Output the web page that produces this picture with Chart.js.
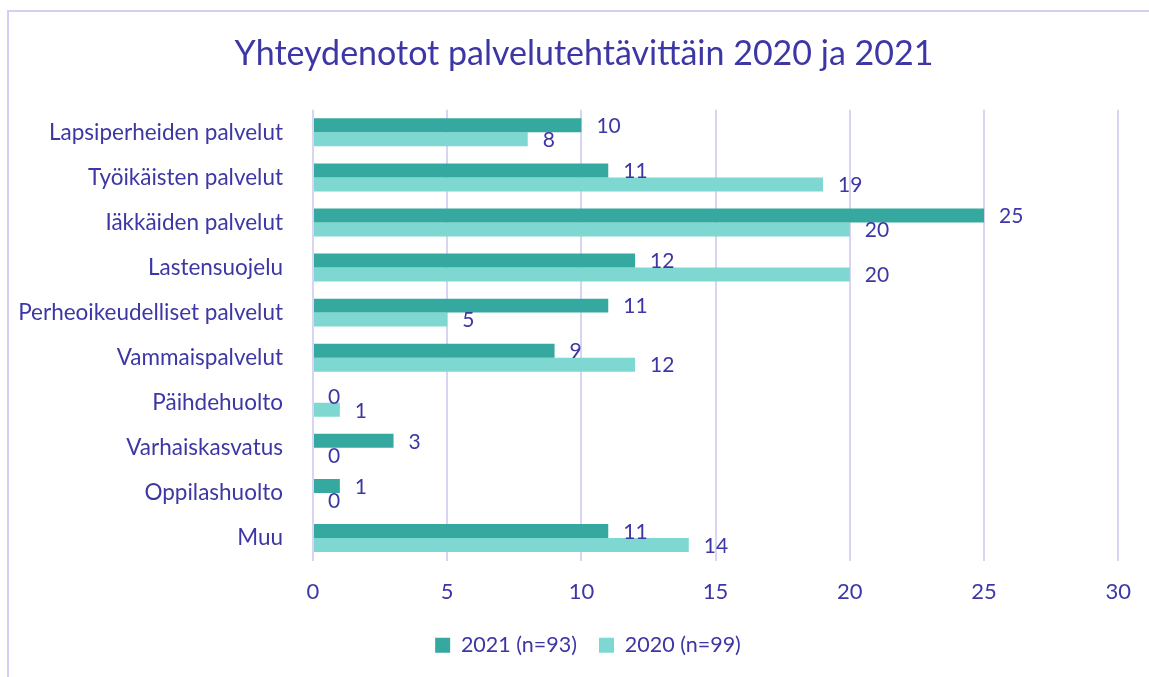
<!DOCTYPE html>
<html>
<head>
<meta charset="utf-8">
<script src="https://cdn.jsdelivr.net/npm/chart.js@4/dist/chart.umd.min.js"></script>
<style>
html,body{margin:0;padding:0;background:#fff;overflow:hidden;}
#wrap{position:absolute;left:0;top:0;width:1149px;height:677px;}
#frame{position:absolute;left:7px;top:10px;width:1200px;height:700px;border-left:2px solid #D3CFF2;border-top:2px solid #D3CFF2;box-sizing:border-box;}
canvas{position:absolute;left:0;top:0;}
</style>
</head>
<body>
<div id="wrap">
<div id="frame"></div>
<canvas id="c" width="1149" height="677"></canvas>
</div>
<script>
const categories = ["Lapsiperheiden palvelut","Työikäisten palvelut","Iäkkäiden palvelut","Lastensuojelu","Perheoikeudelliset palvelut","Vammaispalvelut","Päihdehuolto","Varhaiskasvatus","Oppilashuolto","Muu"];
const values2021 = [10, 11, 25, 12, 11, 9, 0, 3, 1, 11];
const values2020 = [8, 19, 20, 20, 5, 12, 1, 0, 0, 14];
const seriesNames = ["2021 (n=93)", "2020 (n=99)"];
const xTicks = [0, 5, 10, 15, 20, 25, 30];

const TXT = '#3D37A5';
const FONT = 'Lato, "Open Sans", sans-serif';

const valueLabels = {
  id: 'valueLabels',
  afterDatasetsDraw(chart) {
    const ctx = chart.ctx;
    ctx.save();
    ctx.font = '21px ' + FONT;
    ctx.fillStyle = TXT;
    ctx.textAlign = 'left';
    ctx.textBaseline = 'middle';
    chart.data.datasets.forEach((ds, i) => {
      const meta = chart.getDatasetMeta(i);
      meta.data.forEach((el, j) => {
        ctx.fillText(String(ds.data[j]), el.x + 15, el.y + 1);
      });
    });
    ctx.restore();
  }
};

// shift title & legend so they are centred over the whole frame, not just the plot side
const centerBoxes = {
  id: 'centerBoxes',
  afterLayout(chart) {
    if (chart.titleBlock) chart.titleBlock.left += 49;
    if (chart.legend) chart.legend.left += 57;
  }
};

new Chart(document.getElementById('c'), {
  type: 'bar',
  data: {
    labels: categories,
    datasets: [
      { label: seriesNames[0], data: values2021, backgroundColor: '#35A9A0', borderWidth: 0 },
      { label: seriesNames[1], data: values2020, backgroundColor: '#7ED8D1', borderWidth: 0 }
    ]
  },
  options: {
    indexAxis: 'y',
    responsive: false,
    animation: false,
    devicePixelRatio: 1,
    layout: { padding: { left: 0, right: 30, top: 0, bottom: 11 } },
    datasets: { bar: { barPercentage: 1, categoryPercentage: 0.62 } },
    scales: {
      x: {
        min: 0, max: 30,
        afterBuildTicks(scale) { scale.ticks = xTicks.map(v => ({ value: v })); },
        afterFit(scale) { scale.height = 52; },
        grid: { color: '#D8D4F2', lineWidth: 2, drawTicks: false },
        border: { display: false },
        ticks: { color: TXT, font: { family: FONT, size: 22 }, padding: 18 }
      },
      y: {
        afterFit(scale) { scale.width = 313; },
        grid: { display: false },
        border: { display: false },
        ticks: { color: TXT, font: { family: FONT, size: 22.5 }, padding: 22, autoSkip: false }
      }
    },
    plugins: {
      title: {
        display: true,
        text: 'Yhteydenotot palvelutehtävittäin 2020 ja 2021',
        color: TXT,
        font: { family: FONT, size: 34, weight: 'normal' },
        padding: { top: 34, bottom: 35 }
      },
      legend: {
        position: 'bottom',
        labels: {
          color: TXT,
          font: { family: FONT, size: 21.5 },
          boxWidth: 15, boxHeight: 15,
          padding: 22
        }
      },
      tooltip: { enabled: false }
    }
  },
  plugins: [valueLabels, centerBoxes]
});
</script>
</body>
</html>
